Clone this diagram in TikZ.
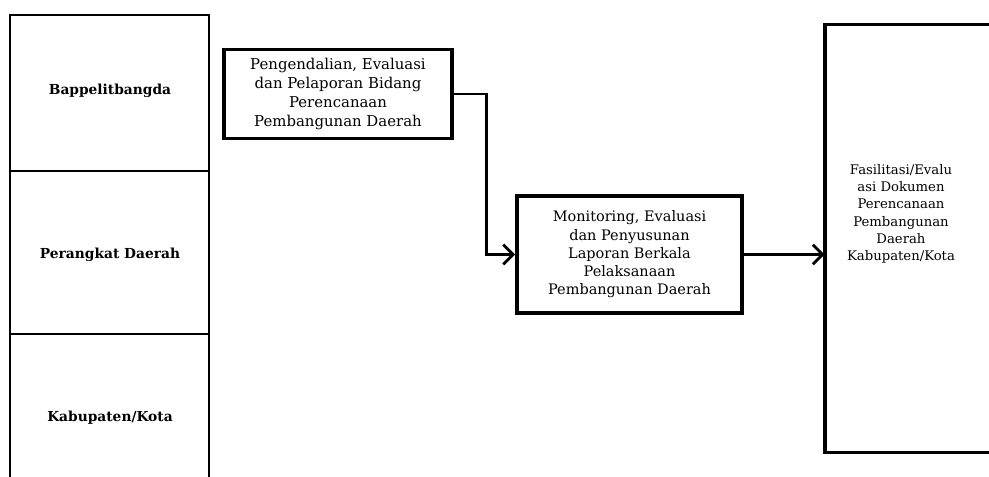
\documentclass[tikz,border=0pt]{standalone}
\usepackage{fontspec}
\setmainfont{DejaVu Serif}
\usetikzlibrary{arrows.meta}

\begin{document}
\begin{tikzpicture}[
    x=0.025cm, y=-0.025cm,   % pixel-like grid
    >={Straight Barb[length=7pt, width=14pt]},
    kotak/.style={draw, line width=2.6pt, align=center, inner sep=2pt,
        font=\fontsize{10.6}{13.4}\selectfont},
    lajur/.style={font=\bfseries\fontsize{9.8}{12}\selectfont}
]
    \useasboundingbox (0,0) rectangle (989,477);

    % --- 1. Left column (lanes) ---
    \draw[line width=1.2pt] (10,477) -- (10,15) -- (209,15) -- (209,477);
    \draw[line width=1.2pt] (10,171) -- (209,171);
    \draw[line width=1.2pt] (10,334) -- (209,334);

    \node[lajur] (bappeda) at (110,91) {Bappelitbangda};
    \node[lajur] (perangkat) at (110,255) {Perangkat Daerah};
    \node[lajur] (kabkota) at (110,418) {Kabupaten/Kota};

    % --- 2. Boxes (Nodes) ---
    \node[kotak, minimum width=5.7cm, minimum height=2.225cm] (pengendalian) at (338,94)
        {Pengendalian, Evaluasi\\dan Pelaporan Bidang\\Perencanaan\\Pembangunan Daerah};

    \node[kotak, minimum width=5.625cm, minimum height=2.925cm,
          font=\fontsize{10.3}{13}\selectfont] (monitoring) at (629.5,254.5)
        {Monitoring, Evaluasi\\dan Penyusunan\\Laporan Berkala\\Pelaksanaan\\Pembangunan Daerah};

    % right box is cut off by the page edge, so only three sides
    \node[minimum width=4.1cm, minimum height=10.675cm] (fasilitasi) at (907,238.5) {};
    \draw[line width=2.6pt] (fasilitasi.north east) -- (fasilitasi.north west)
        -- (fasilitasi.south west) -- (fasilitasi.south east);
    \node[align=center, font=\fontsize{9.4}{12.3}\selectfont] (fasilitasiteks) at (901,214)
        {Fasilitasi/Evalu\\asi Dokumen\\Perencanaan\\Pembangunan\\Daerah\\Kabupaten/Kota};

    % --- 3. Arrows (Edges) ---
    \draw[->, line width=2pt] (pengendalian.east) -- ++(33,0) |- (monitoring.west);
    \draw[->, line width=2pt] (monitoring.east) -- (monitoring.east -| fasilitasi.west);

\end{tikzpicture}
\end{document}
